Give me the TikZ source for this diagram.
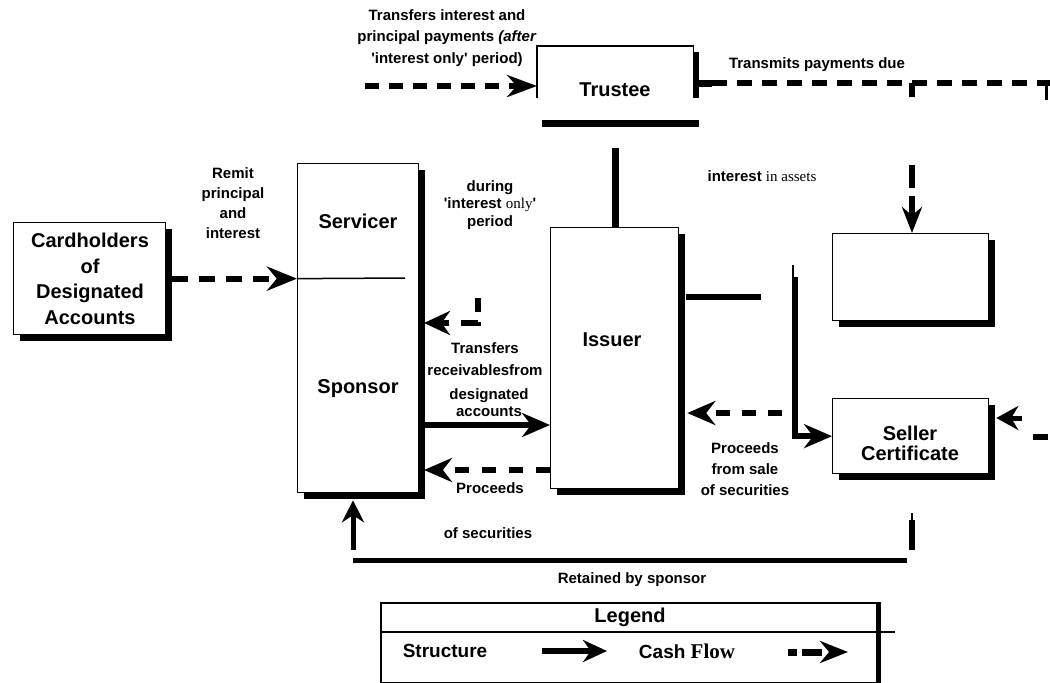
\documentclass[tikz,border=0pt]{standalone}
\usepackage{fontspec}
\setmainfont{Liberation Sans}[Ligatures=TeXOff]
\newfontfamily\serifface{Liberation Serif}
\usetikzlibrary{arrows.meta,shadows,calc}
\tikzset{
  sbox/.style={draw, line width=1.3pt, fill=white, inner sep=0pt,
    drop shadow={shadow xshift=6pt, shadow yshift=-6pt, fill=black, opacity=1}},
  lab/.style={font=\bfseries\fontsize{15}{20}\selectfont, align=center, inner sep=0pt},
  big/.style={font=\bfseries\fontsize{20}{25}\selectfont, align=center, inner sep=0pt},
  struct/.style={line width=6pt},
  sarrow/.style={line width=6pt, -{Stealth[length=28pt,width=24pt]}},
  cf/.style={line width=6pt, dash pattern=on 14pt off 10pt},
  cfarrow/.style={cf, -{Stealth[length=28pt,width=24pt]}},
}
\begin{document}
\begin{tikzpicture}[x=1pt,y=-1pt]
\useasboundingbox (0,0) rectangle (1050,683);

% ---------- boxes ----------
\node[sbox, minimum width=152pt, minimum height=112pt, anchor=north west] (card) at (13,222) {};
\node[big, font=\bfseries\fontsize{20}{25.5}\selectfont] (cardT) at (90,279) {Cardholders\\of\\Designated\\Accounts};

\node[sbox, minimum width=121pt, minimum height=329pt, anchor=north west] (serv) at (297,163) {};
\node[big] (servT) at (358,221) {Servicer};
\node[big, font=\bfseries\fontsize{20}{25}\selectfont] (sponT) at (358,389) {Sponsor};

\node[sbox, minimum width=128pt, minimum height=261pt, anchor=north west] (iss) at (550,227) {};
\node[big] (issT) at (612,340) {Issuer};

\node[sbox, minimum width=156pt, minimum height=87pt, anchor=north west] (emp) at (832,233) {};
\node[sbox, minimum width=156pt, minimum height=75pt, anchor=north west] (sell) at (832,398) {};
\node[big, font=\bfseries\fontsize{20}{20}\selectfont] (sellT) at (910,443) {Seller\\Certificate};

% Trustee (open box with bar below)
\node[inner sep=0pt, minimum width=156pt, minimum height=52pt, anchor=north west] (trus) at (537,46) {};
\draw[line width=1.3pt] (trus.south west) |- (trus.north east) -- (trus.south east);
\coordinate (trR1) at (696,52);
\coordinate (trR2) at (696,98);
\draw[line width=5pt] (trR1) -- (trR2);
\node[big] (trusT) at (615,90) {Trustee};
\coordinate (tb1) at (542,123);
\coordinate (tb2) at (699,123);
\draw[line width=7pt] (tb1) -- (tb2);

% ---------- labels ----------
\node[lab, font=\bfseries\fontsize{15}{21.5}\selectfont] (l1) at (447,38)
  {Transfers interest and\\principal payments \textit{(after}\\'interest only' period)};
\node[lab] (l2) at (817,65) {Transmits payments due};
\node[lab] (l3) at (233,203) {Remit\\principal\\and\\interest};
\node[lab, font=\bfseries\fontsize{15}{17.5}\selectfont] (l4) at (490,205)
  {during\\'interest {\serifface\mdseries only}'\\period};
\node[lab] (l5) at (762,176) {interest {\serifface\mdseries in assets}};
\node[lab, font=\bfseries\fontsize{15}{22}\selectfont] (l6) at (485,359) {Transfers\\receivablesfrom};
\node[lab, font=\bfseries\fontsize{15}{17}\selectfont] (l7) at (489,403) {designated\\accounts};
\node[lab] (l8) at (490,488) {Proceeds};
\node[lab] (l9) at (488,533) {of securities};
\node[lab, font=\bfseries\fontsize{15}{21}\selectfont] (l10) at (745,469) {Proceeds\\from sale\\of securities};
\node[lab] (l11) at (632,580) {Retained by sponsor};

% ---------- connectors ----------
% Cardholders -> Servicer
\draw[cf, dash pattern=on 16pt off 11pt, -{Stealth[length=30pt,width=24pt]}]
  ([xshift=6pt]card.east) -- (serv.west |- card.east);
\coordinate (sl) at (405,278);
\draw[line width=1.5pt] (serv.west |- card.east) -- (sl);

% top dashed into Trustee
\coordinate (tstart) at (365,86);
\draw[cf, -{Stealth[length=30pt,width=22pt]}] (tstart) -- (trus.west |- tstart);

% Trustee -> right
\coordinate (ts) at (698,83);
\coordinate (ts2) at (712,83);
\coordinate (te) at (1050,83);
\draw[line width=7pt] (ts) -- (ts2);
\draw[cf, dash pattern=on 15pt off 10pt] (ts2) -- (te);
\coordinate (tee) at (1046,83);
\coordinate (tee2) at (1046,100);
\draw[line width=3pt] (tee) -- (tee2);

% branch down to empty box
\coordinate (br) at (912,83);
\draw[line width=6pt, dash pattern=on 14pt off 68pt on 23pt off 8pt on 40pt,
  -{Stealth[length=26pt,width=20pt]}] (br) -- (br |- emp.north);

% Trustee bar -> Issuer
\coordinate (tv) at (615,148);
\draw[line width=7pt] (tv) -- (tv |- iss.north);

% Issuer right stub
\coordinate (il1) at (686,297);
\coordinate (il2) at (761,297);
\draw[struct] (il1) -- (il2);

% structure to Seller Certificate
\coordinate (v0) at (793,265);
\coordinate (v1) at (795,277);
\draw[line width=2pt] (v0) -- (v0 |- v1);
\draw[sarrow, line join=miter] (v1) |- (sell.west);

% Seller side dashed -> Issuer
\coordinate (d1) at (782,413);
\draw[cfarrow, dash pattern=on 14pt off 12pt] (d1) -- ($(d1 -| iss.east)+(8,0)$);

% arrow into Seller from right
\coordinate (r1) at (1022,418);
\draw[line width=5pt, -{Stealth[length=22pt,width=24pt]}] (r1) -- ($(r1 -| sell.east)+(7,0)$);
\coordinate (rd1) at (1033,437);
\coordinate (rd2) at (1048,437);
\draw[line width=6pt] (rd1) -- (rd2);

% Sponsor -> Issuer
\coordinate (s1) at (424,425);
\draw[sarrow] (s1) -- (s1 -| iss.west);

% Issuer -> Sponsor (proceeds)
\coordinate (p1) at (424,470);
\draw[cfarrow, dash pattern=on 14pt off 13pt] (p1 -| iss.west) -- (p1);

% small dashed into Sponsor
\coordinate (q0) at (478,298);
\coordinate (q1) at (478,323);
\coordinate (q2) at (424,323);
\draw[line width=6pt, dash pattern=on 14pt off 10pt on 18pt off 12pt,
  -{Stealth[length=26pt,width=24pt]}] (q0) -- (q1) -- (q2);

% retained by sponsor
\coordinate (u0) at (353,550);
\draw[line width=5pt, -{Stealth[length=22pt,width=22pt]}] (u0) -- ($(u0 |- serv.south)+(0,7)$);
\coordinate (h1) at (353,560);
\coordinate (h2) at (907,560);
\draw[line width=5pt] (h1) -- (h2);
\coordinate (rs0) at (912,513);
\coordinate (rs1) at (912,520);
\coordinate (rs2) at (912,550);
\draw[line width=1.5pt] (rs0) -- (rs1);
\draw[line width=6pt] (rs1) -- (rs2);

% ---------- legend ----------
\node[draw, line width=1.5pt, inner sep=0pt, minimum width=497pt, minimum height=80pt,
  anchor=north west] (leg) at (380,602) {};
\draw[line width=5pt] (leg.north east) -- (leg.south east);
\coordinate (ld) at (895,632);
\draw[line width=2.5pt] (leg.west |- ld) -- (ld);
\node[big] (legT) at (630,617) {Legend};
\node[big, font=\bfseries\fontsize{19}{22}\selectfont] (structT) at (445,651) {Structure};
\coordinate (la1) at (542,651);
\coordinate (la2) at (607,651);
\draw[line width=6pt, -{Stealth[length=24pt,width=22pt]}] (la1) -- (la2);
\node[big, font=\bfseries\fontsize{19}{22}\selectfont] (cashT) at (687,651)
  {Cash {\serifface\fontsize{21}{22}\selectfont Flow}};
\coordinate (lc1) at (788,652);
\coordinate (lc2) at (848,652);
\draw[line width=7pt, dash pattern=on 9pt off 5pt on 20pt,
  -{Stealth[length=28pt,width=22pt]}] (lc1) -- (lc2);
\end{tikzpicture}
\end{document}
